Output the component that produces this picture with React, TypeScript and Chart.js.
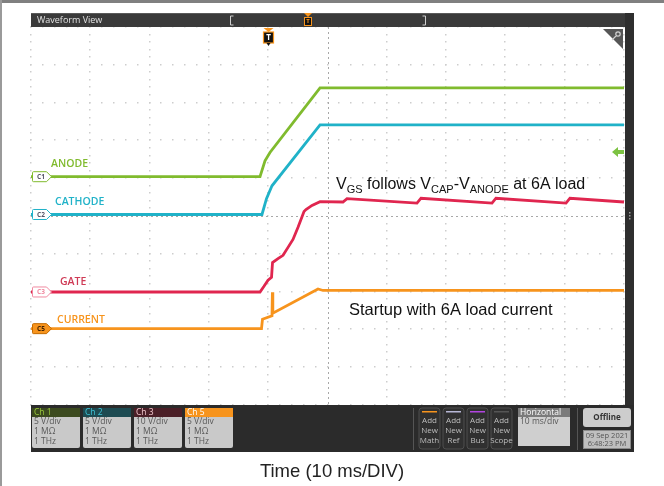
import React, { useEffect, useRef } from "react";
import { Chart, registerables } from "chart.js";

Chart.register(...registerables);

// Time in ms (10 ms/div), values in screen divisions (-5..5)
const anodeTime = [0, 38.62, 39.46, 40.3, 48.74, 100];
const anodeDiv = [1.04, 1.04, 1.46, 1.68, 3.39, 3.39];

const cathodeTime = [0, 38.95, 39.71, 40.64, 48.74, 100];
const cathodeDiv = [0.04, 0.04, 0.46, 0.8, 2.41, 2.41];

const gateTime = [0, 38.62, 39.29, 39.97, 40.56, 40.73, 41.65, 42.5, 43.34, 44.18, 45.03, 46.04, 46.37, 47.39, 48.74, 52.61, 53.29, 65.09, 65.77, 77.74, 78.41, 90.22, 90.89, 100];
const gateDiv = [-2.01, -2.01, -1.86, -1.7, -1.62, -1.23, -1.13, -1.04, -0.83, -0.62, -0.3, 0.12, 0.17, 0.28, 0.38, 0.37, 0.46, 0.34, 0.47, 0.34, 0.47, 0.34, 0.47, 0.37];

const currentTime = [0, 38.87, 39.04, 40.64, 40.71, 40.78, 48.4, 49.24, 100];
const currentDiv = [-2.98, -2.98, -2.73, -2.64, -2.02, -2.57, -1.93, -1.97, -1.97];

const triggerTime = 40;
const traceLabels = ["ANODE", "CATHODE", "GATE", "CURRENT"];
const tagLabels = ["C1", "C2", "C3", "C5"];
const channelNames = ["Ch 1", "Ch 2", "Ch 3", "Ch 5"];
const channelScales = ["5 V/div", "5 V/div", "10 V/div", "5 V/div"];
const channelImpedance = ["1 MΩ", "1 MΩ", "1 MΩ", "1 MΩ"];
const channelBandwidth = ["1 THz", "1 THz", "1 THz", "1 THz"];
const addButtons = ["Math", "Ref", "Bus", "Scope"];
const horizontalScale = "10 ms/div";
const dateLines = ["09 Sep 2021", "6:48:23 PM"];
const xAxisTitle = "Time (10 ms/DIV)";

const GREEN = "#80bb2e";
const CYAN = "#20b2c8";
const RED = "#e0264f";
const ORANGE = "#f7941d";
const traceColors = [GREEN, CYAN, RED, ORANGE];
const UI = '"Open Sans", "DejaVu Sans", sans-serif';
const SANS = '"Liberation Sans", Arial, sans-serif';

function toPts(t: number[], v: number[]) {
  return t.map((x, i) => ({ x, y: v[i] }));
}

function roundRect(ctx: CanvasRenderingContext2D, x: number, y: number, w: number, h: number, r: number) {
  ctx.beginPath();
  ctx.moveTo(x + r, y);
  ctx.lineTo(x + w - r, y);
  ctx.quadraticCurveTo(x + w, y, x + w, y + r);
  ctx.lineTo(x + w, y + h - r);
  ctx.quadraticCurveTo(x + w, y + h, x + w - r, y + h);
  ctx.lineTo(x + r, y + h);
  ctx.quadraticCurveTo(x, y + h, x, y + h - r);
  ctx.lineTo(x, y + r);
  ctx.quadraticCurveTo(x, y, x + r, y);
  ctx.closePath();
}

const scopePlugin = {
  id: "scope",
  beforeDraw(chart: any) {
    const ctx: CanvasRenderingContext2D = chart.ctx;
    const { left, right, top, bottom } = chart.chartArea;
    const xs = chart.scales.x;
    const ys = chart.scales.y;
    ctx.save();
    ctx.fillStyle = "#ffffff";
    ctx.fillRect(0, 0, chart.width, chart.height);
    // outer frame
    ctx.fillStyle = "#808080";
    ctx.fillRect(0, 0, chart.width, 3);
    ctx.fillStyle = "#9a9a9a";
    ctx.fillRect(0, 0, 2, chart.height);

    // grid dots
    ctx.fillStyle = "#cdcdcd";
    for (let i = 0; i <= 10; i++) {
      const px = xs.getPixelForValue(i * 10);
      if (i === 5) continue;
      for (let j = 0; j <= 50; j++) {
        const py = ys.getPixelForValue(-5 + j * 0.2);
        ctx.fillRect(Math.round(px) - 1, Math.round(py) - 1, 1.5, 1.5);
      }
    }
    for (let k = 0; k <= 10; k++) {
      const py = ys.getPixelForValue(-5 + k);
      if (k === 5) continue;
      for (let j = 0; j <= 50; j++) {
        const px = xs.getPixelForValue(j * 2);
        ctx.fillRect(Math.round(px) - 1, Math.round(py) - 1, 1.5, 1.5);
      }
    }
    // center lines
    ctx.strokeStyle = "#a8a8a8";
    ctx.lineWidth = 1;
    ctx.setLineDash([2, 3]);
    const cx = Math.round(xs.getPixelForValue(50)) + 0.5;
    const cy = Math.round(ys.getPixelForValue(0)) + 0.5;
    ctx.beginPath();
    ctx.moveTo(cx, top);
    ctx.lineTo(cx, bottom);
    ctx.moveTo(left, cy);
    ctx.lineTo(right, cy);
    ctx.stroke();
    ctx.setLineDash([]);
    ctx.restore();
  },
  afterDatasetsDraw(chart: any) {
    const ctx: CanvasRenderingContext2D = chart.ctx;
    const { left, right, top, bottom } = chart.chartArea;
    const xs = chart.scales.x;
    const ys = chart.scales.y;
    ctx.save();

    // header bar
    ctx.fillStyle = "#3a3a3a";
    ctx.fillRect(left, 13, right - left + 2, top - 13);
    ctx.fillStyle = "#5a5a5a";
    ctx.fillRect(left, 13, right - left + 2, 1);
    ctx.fillStyle = "#e2e2e2";
    ctx.font = `9px ${UI}`;
    ctx.textBaseline = "middle";
    ctx.textAlign = "left";
    ctx.fillText("Waveform View", left + 6, 20);
    ctx.strokeStyle = "#cfcfcf";
    ctx.lineWidth = 1;
    ctx.beginPath();
    ctx.moveTo(233.5, 16); ctx.lineTo(230.5, 16); ctx.lineTo(230.5, 25); ctx.lineTo(233.5, 25);
    ctx.moveTo(422.5, 16); ctx.lineTo(425.5, 16); ctx.lineTo(425.5, 25); ctx.lineTo(422.5, 25);
    ctx.stroke();
    // header trigger marker
    ctx.fillStyle = ORANGE;
    ctx.beginPath();
    ctx.moveTo(304, 13); ctx.lineTo(312, 13); ctx.lineTo(308, 17); ctx.closePath();
    ctx.fill();
    ctx.strokeStyle = ORANGE;
    ctx.fillStyle = "#111";
    ctx.fillRect(304.5, 17.5, 7, 8);
    ctx.strokeRect(304.5, 17.5, 7, 8);
    ctx.fillStyle = ORANGE;
    ctx.font = `bold 6px ${UI}`;
    ctx.textAlign = "center";
    ctx.fillText("T", 308, 21.5);

    // right bar
    ctx.fillStyle = "#2e2e2e";
    ctx.fillRect(right + 1, 13, 634 - right - 1, 452 - 13);
    ctx.fillStyle = "#9a9a9a";
    for (let d = -1; d <= 1; d++) ctx.fillRect(629, 215 + d * 3, 1.5, 1.5);

    // bottom panel
    ctx.fillStyle = "#2b2b2b";
    ctx.fillRect(left, bottom, 634 - left, 452 - bottom);

    // channel boxes
    const headerBg = ["#3c4a1f", "#1d4b52", "#4b1f27", ORANGE];
    const headerFg = ["#9ccc3c", "#3fc6da", "#f3c9cf", "#ffffff"];
    for (let i = 0; i < 4; i++) {
      const bx = 32 + i * 51;
      const bw = 48;
      ctx.fillStyle = "#c9c9c9";
      roundRect(ctx, bx, 408, bw, 40, 2);
      ctx.fill();
      ctx.fillStyle = headerBg[i];
      ctx.fillRect(bx, 408, bw, 9);
      ctx.fillStyle = headerFg[i];
      ctx.font = `8.5px ${UI}`;
      ctx.textAlign = "left";
      ctx.textBaseline = "middle";
      ctx.fillText(channelNames[i], bx + 2, 412.5);
      ctx.fillStyle = "#585858";
      ctx.fillText(channelScales[i], bx + 2, 422);
      ctx.fillText(channelImpedance[i], bx + 2, 432);
      ctx.fillText(channelBandwidth[i], bx + 2, 442);
    }

    // separators
    ctx.strokeStyle = "#555";
    ctx.beginPath();
    ctx.moveTo(413.5, 408); ctx.lineTo(413.5, 450);
    ctx.moveTo(577.5, 408); ctx.lineTo(577.5, 450);
    ctx.stroke();

    // add buttons
    const barColors = [ORANGE, "#b7b7d6", "#b144e0", "#555555"];
    const bxs = [419, 443, 467, 491];
    for (let i = 0; i < 4; i++) {
      const bx = bxs[i];
      ctx.fillStyle = "#303030";
      roundRect(ctx, bx, 408, 21, 41, 3);
      ctx.fill();
      ctx.strokeStyle = "#4e4e4e";
      ctx.stroke();
      ctx.fillStyle = barColors[i];
      ctx.fillRect(bx + 3, 411, 15, 1.5);
      ctx.fillStyle = "#bdbdbd";
      ctx.font = `8px ${UI}`;
      ctx.textAlign = "center";
      ctx.fillText("Add", bx + 10.5, 421);
      ctx.fillText("New", bx + 10.5, 431);
      ctx.fillText(addButtons[i], bx + 10.5, 441);
    }

    // horizontal box
    ctx.fillStyle = "#cfcfcf";
    ctx.fillRect(518, 408, 52, 38);
    ctx.fillStyle = "#7b7b7b";
    ctx.fillRect(518, 408, 52, 9);
    ctx.fillStyle = "#ffffff";
    ctx.textAlign = "left";
    ctx.font = `8.5px ${UI}`;
    ctx.fillText("Horizontal", 520, 412.5);
    ctx.fillStyle = "#585858";
    ctx.fillText(horizontalScale, 520, 422);

    // offline + date
    ctx.fillStyle = "#cdcdcd";
    roundRect(ctx, 583, 408, 48, 19, 3);
    ctx.fill();
    ctx.fillStyle = "#333";
    ctx.font = `bold 8px ${UI}`;
    ctx.textAlign = "center";
    ctx.fillText("Offline", 607, 417.5);
    ctx.fillStyle = "#bfbfbf";
    ctx.fillRect(583, 430, 48, 19);
    ctx.strokeStyle = "#8a8a8a";
    ctx.strokeRect(583.5, 430.5, 47, 18);
    ctx.fillStyle = "#555";
    ctx.font = `7.5px ${UI}`;
    ctx.fillText(dateLines[0], 607, 435.5);
    ctx.fillText(dateLines[1], 607, 444);

    // channel tags and labels
    const levels = [anodeDiv[0], cathodeDiv[0], gateDiv[0], currentDiv[0]];
    const labelX = [51, 55, 60, 57];
    const labelDy = [-13, -12, -10, -9];
    const tagFill = ["#ffffff", "#ffffff", "#ffffff", ORANGE];
    const tagStroke = [GREEN, CYAN, "#f08aa0", "#c46a00"];
    const tagText = ["#556", "#556", "#f08aa0", "#402000"];
    for (let i = 0; i < 4; i++) {
      const py = ys.getPixelForValue(levels[i]);
      const x0 = left + 1.5;
      ctx.beginPath();
      ctx.moveTo(x0 + 1, py - 5);
      ctx.lineTo(x0 + 14, py - 5);
      ctx.lineTo(x0 + 19, py);
      ctx.lineTo(x0 + 14, py + 5);
      ctx.lineTo(x0 + 1, py + 5);
      ctx.quadraticCurveTo(x0, py + 5, x0, py + 4);
      ctx.lineTo(x0, py - 4);
      ctx.quadraticCurveTo(x0, py - 5, x0 + 1, py - 5);
      ctx.closePath();
      ctx.fillStyle = tagFill[i];
      ctx.fill();
      ctx.strokeStyle = tagStroke[i];
      ctx.lineWidth = 1;
      ctx.stroke();
      ctx.fillStyle = tagText[i];
      ctx.font = `bold 6.5px ${UI}`;
      ctx.textAlign = "center";
      ctx.textBaseline = "middle";
      ctx.fillText(tagLabels[i], x0 + 8.5, py + 0.5);

      ctx.fillStyle = i === 2 ? "#cf3a55" : traceColors[i];
      ctx.font = `600 10.5px ${UI}`;
      ctx.textAlign = "left";
      ctx.fillText(traceLabels[i], labelX[i], py + labelDy[i]);
    }

    // trigger marker in plot
    const tx = Math.round(xs.getPixelForValue(triggerTime)) + 0.5;
    ctx.fillStyle = ORANGE;
    ctx.beginPath();
    ctx.moveTo(tx - 5, top + 1); ctx.lineTo(tx + 5, top + 1); ctx.lineTo(tx, top + 5); ctx.closePath();
    ctx.fill();
    ctx.fillStyle = "#111";
    ctx.fillRect(tx - 5, top + 5, 10, 11);
    ctx.strokeStyle = ORANGE;
    ctx.lineWidth = 1.2;
    ctx.strokeRect(tx - 5, top + 5, 10, 11);
    ctx.fillStyle = "#111";
    ctx.beginPath();
    ctx.moveTo(tx - 2, top + 16); ctx.lineTo(tx + 2, top + 16); ctx.lineTo(tx, top + 19); ctx.closePath();
    ctx.fill();
    ctx.fillStyle = "#ffffff";
    ctx.font = `bold 8px ${UI}`;
    ctx.textAlign = "center";
    ctx.fillText("T", tx, top + 11);

    // wrench corner
    ctx.fillStyle = "#565656";
    ctx.beginPath();
    ctx.moveTo(right - 21, top + 2);
    ctx.lineTo(right - 1, top + 2);
    ctx.lineTo(right - 1, top + 22);
    ctx.closePath();
    ctx.fill();
    ctx.strokeStyle = "#d0d0d0";
    ctx.lineWidth = 1.2;
    ctx.beginPath();
    ctx.arc(right - 6, top + 7, 2.2, 0, Math.PI * 2);
    ctx.moveTo(right - 7.5, top + 8.5);
    ctx.lineTo(right - 12, top + 13);
    ctx.stroke();

    // trigger level arrow
    const ly = Math.round(ys.getPixelForValue(1.68));
    ctx.fillStyle = "#7cc242";
    ctx.beginPath();
    ctx.moveTo(right - 12, ly);
    ctx.lineTo(right - 6, ly - 5);
    ctx.lineTo(right - 6, ly - 2);
    ctx.lineTo(right, ly - 2);
    ctx.lineTo(right, ly + 2);
    ctx.lineTo(right - 6, ly + 2);
    ctx.lineTo(right - 6, ly + 5);
    ctx.closePath();
    ctx.fill();

    // annotations
    ctx.fillStyle = "#111";
    ctx.textAlign = "left";
    ctx.textBaseline = "alphabetic";
    const parts: [string, boolean][] = [
      ["V", false], ["GS", true], [" follows V", false], ["CAP", true], ["-V", false], ["ANODE", true], [" at 6A load", false],
    ];
    let ax = 336;
    const ab = 189;
    for (const [s, sub] of parts) {
      ctx.font = sub ? `11px ${SANS}` : `16px ${SANS}`;
      ctx.fillText(s, ax, sub ? ab + 3.5 : ab);
      ax += ctx.measureText(s).width;
    }
    ctx.font = `16.5px ${SANS}`;
    ctx.fillText("Startup with 6A load current", 349, 315);

    // axis title
    ctx.fillStyle = "#222";
    ctx.font = `18.5px ${SANS}`;
    ctx.textAlign = "center";
    ctx.fillText(xAxisTitle, 332, 477);

    ctx.restore();
  },
};

export default function App() {
  const ref = useRef<HTMLCanvasElement>(null);
  useEffect(() => {
    document.body.style.margin = "0";
    const canvas = ref.current;
    if (!canvas) return;
    const series = [
      { label: traceLabels[3], data: toPts(currentTime, currentDiv), color: ORANGE },
      { label: traceLabels[2], data: toPts(gateTime, gateDiv), color: RED },
      { label: traceLabels[1], data: toPts(cathodeTime, cathodeDiv), color: CYAN },
      { label: traceLabels[0], data: toPts(anodeTime, anodeDiv), color: GREEN },
    ];
    const chart = new Chart(canvas, {
      type: "line",
      data: {
        datasets: series.map((s) => ({
          label: s.label,
          data: s.data,
          borderColor: s.color,
          backgroundColor: s.color,
          borderWidth: 2.8,
          pointRadius: 0,
          tension: 0,
          fill: false,
        })),
      },
      options: {
        responsive: false,
        animation: false,
        devicePixelRatio: 1,
        layout: { padding: { left: 31, right: 40, top: 27, bottom: 81 } },
        plugins: { legend: { display: false }, tooltip: { enabled: false } },
        scales: {
          x: { type: "linear", min: 0, max: 100, display: false },
          y: { type: "linear", min: -5, max: 5, display: false },
        },
      },
      plugins: [scopePlugin],
    } as any);
    return () => chart.destroy();
  }, []);
  return (
    <div style={{ position: "absolute", left: 0, top: 0, width: 664, height: 486 }}>
      <canvas ref={ref} width={664} height={486} style={{ display: "block" }} />
    </div>
  );
}
